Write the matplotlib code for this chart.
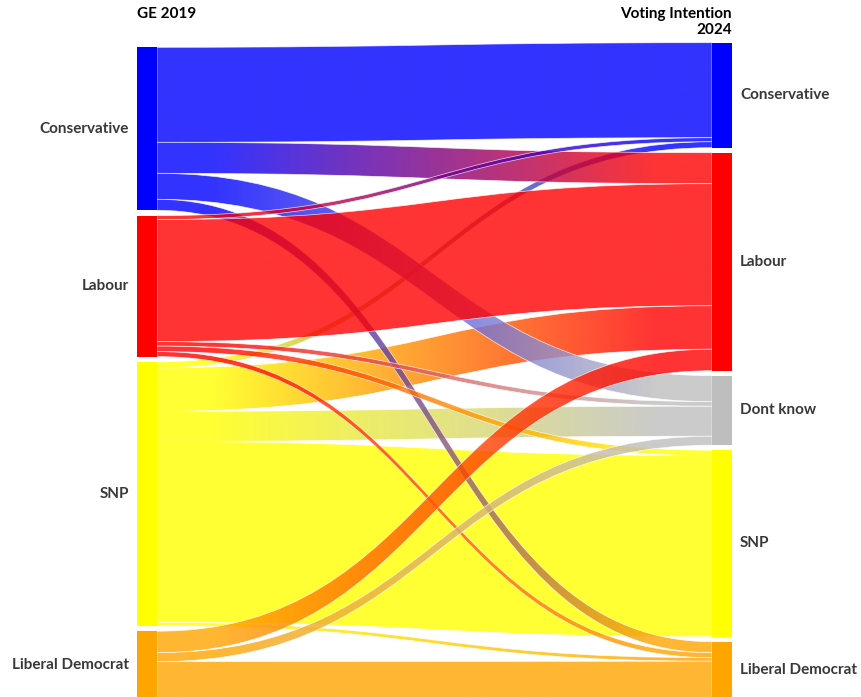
import numpy as np
import matplotlib.pyplot as plt
import matplotlib.colors as mcolors
from matplotlib.path import Path
from matplotlib.patches import PathPatch, Rectangle

# GE 2019 -> Voting Intention 2024 flows
left_nodes = ['Conservative', 'Labour', 'SNP', 'Liberal Democrat']
right_nodes = ['Conservative', 'Labour', 'Dont know', 'SNP', 'Liberal Democrat']
node_colors = {'Conservative': '#0000ff', 'Labour': '#ff0000', 'Dont know': '#bebebe',
               'SNP': '#ffff00', 'Liberal Democrat': '#ffa500'}

sources = ['Conservative'] * 4 + ['Labour'] * 5 + ['SNP'] * 5 + ['Liberal Democrat'] * 3
targets = ['Conservative', 'Labour', 'Dont know', 'Liberal Democrat',
           'Conservative', 'Labour', 'Dont know', 'SNP', 'Liberal Democrat',
           'Conservative', 'Labour', 'Dont know', 'SNP', 'Liberal Democrat',
           'Labour', 'Dont know', 'Liberal Democrat']
values = [95, 31, 26, 11,
          4, 122, 4.5, 5.5, 5,
          6, 43.5, 30, 181, 3.5,
          21.5, 9, 38]

# order the links are painted in
draw_order = ['SNP', 'Conservative', 'Labour', 'Liberal Democrat']

W, H = 861, 697
fig = plt.figure(figsize=(W / 100, H / 100), dpi=100)
ax = fig.add_axes([0, 0, 1, 1])

xl, xr, nw = 137, 712, 20
left_top, right_top = 47.3, 42.7
left_gap, right_gap = 5.3, 5.0
font = ['Lato', 'DejaVu Sans']


def stack(nodes, side, top, gap):
    pos = {}
    y = top
    for n in nodes:
        tot = sum(v for s, t, v in zip(sources, targets, values) if (s if side == 'L' else t) == n)
        pos[n] = (y, y + tot)
        y += tot + gap
    return pos


lpos = stack(left_nodes, 'L', left_top, left_gap)
rpos = stack(right_nodes, 'R', right_top, right_gap)

# slots for each link inside its nodes
out_y = {n: lpos[n][0] for n in left_nodes}
in_y = {n: rpos[n][0] for n in right_nodes}
links = []
for s in left_nodes:
    for t in right_nodes:
        for ss, tt, v in zip(sources, targets, values):
            if ss == s and tt == t:
                links.append([s, t, v, out_y[s], None])
                out_y[s] += v
for t in right_nodes:
    for s in left_nodes:
        for l in links:
            if l[0] == s and l[1] == t:
                l[4] = in_y[t]
                in_y[t] += l[2]

x0, x1 = xl + nw, xr
xm = (x0 + x1) / 2
z = 1.0
for src in draw_order:
    for s, t, v, ya, yb in links:
        if s != src:
            continue
        verts = [(x0, ya), (xm, ya), (xm, yb), (x1, yb),
                 (x1, yb + v),
                 (xm, yb + v), (xm, ya + v), (x0, ya + v),
                 (x0, ya)]
        codes = [Path.MOVETO, Path.CURVE4, Path.CURVE4, Path.CURVE4,
                 Path.LINETO,
                 Path.CURVE4, Path.CURVE4, Path.CURVE4,
                 Path.CLOSEPOLY]
        path = Path(verts, codes)
        c0 = np.array(mcolors.to_rgb(node_colors[s]))
        c1 = np.array(mcolors.to_rgb(node_colors[t]))
        tt = np.clip((np.linspace(0, 1, 256) - 0.1) / 0.8, 0, 1)[:, None]
        grad = np.ones((1, 256, 4))
        grad[0, :, :3] = c0 * (1 - tt) + c1 * tt
        grad[0, :, 3] = 0.8
        patch = PathPatch(path, facecolor='none', edgecolor='white', lw=0.5, alpha=0.8, zorder=z + 0.005)
        ax.add_patch(patch)
        im = ax.imshow(grad, extent=[x0, x1, min(ya, yb) - 1, max(ya, yb) + v + 1],
                       aspect='auto', interpolation='bilinear', zorder=z)
        im.set_clip_path(patch)
        z += 0.01

# nodes
for n in left_nodes:
    y0, y1 = lpos[n]
    ax.add_patch(Rectangle((xl, y0), nw, y1 - y0, facecolor=node_colors[n], edgecolor='none', zorder=10))
    ax.text(xl - 8, (y0 + y1) / 2, n, ha='right', va='center', fontsize=11,
            fontweight='bold', color='#383838', family=font, zorder=11)
for n in right_nodes:
    y0, y1 = rpos[n]
    ax.add_patch(Rectangle((xr, y0), nw, y1 - y0, facecolor=node_colors[n], edgecolor='none', zorder=10))
    ax.text(xr + nw + 8, (y0 + y1) / 2, n, ha='left', va='center', fontsize=11,
            fontweight='bold', color='#383838', family=font, zorder=11)

ax.text(xl, 13.5, 'GE 2019', ha='left', va='center', fontsize=11, fontweight='bold',
        color='black', family=font)
ax.text(xr + nw, 22, 'Voting Intention\n2024', ha='right', va='center', fontsize=11,
        fontweight='bold', color='black', family=font, linespacing=1.15)

ax.set_xlim(0, W)
ax.set_ylim(H, 0)
ax.axis('off')
fig.savefig('out.png', dpi=100, facecolor='w')
